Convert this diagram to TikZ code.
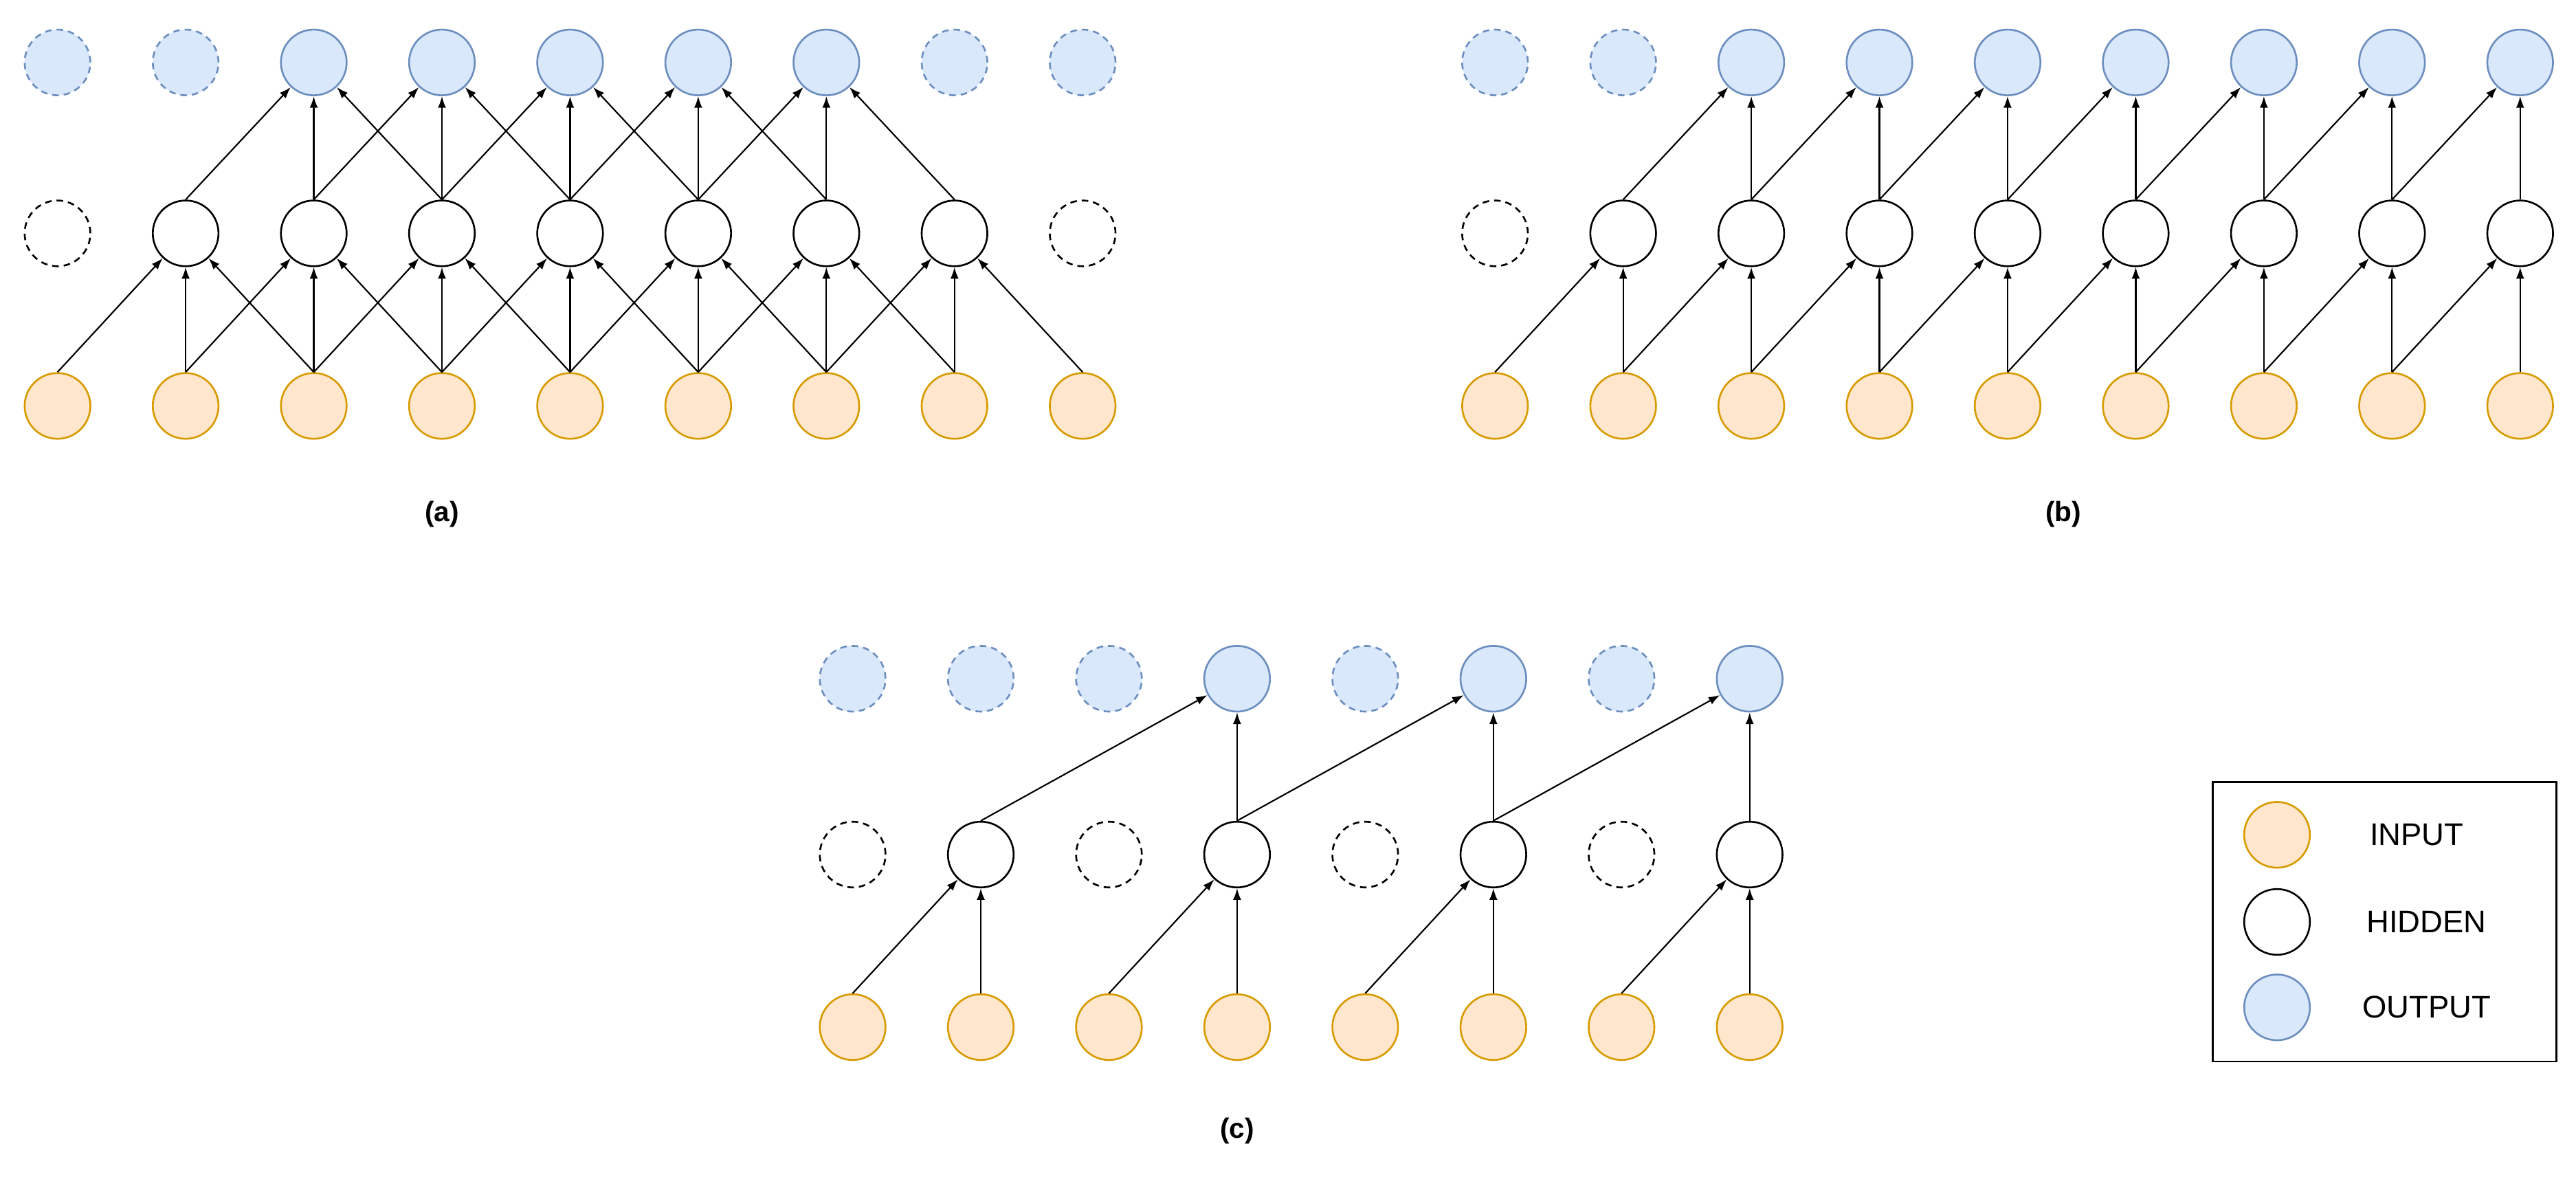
\documentclass[tikz,border=0pt]{standalone}
\usepackage{fontspec}
\setmainfont{Liberation Sans}
\usetikzlibrary{arrows.meta}
\definecolor{inF}{HTML}{FFE6CC}\definecolor{inD}{HTML}{D79B00}
\definecolor{outF}{HTML}{DAE8FC}\definecolor{outD}{HTML}{6C8EBF}
\begin{document}
\begin{tikzpicture}[x=1pt,y=-1pt,
  nd/.style={circle,minimum size=40pt,inner sep=0pt,line width=1.1pt},
  inp/.style={nd,draw=inD,fill=inF},
  hid/.style={nd,draw=black,fill=white},
  outp/.style={nd,draw=outD,fill=outF},
  dsh/.style={dashed,dash pattern=on 4pt off 3pt},
  ar/.style={-{Latex[length=7pt,width=5pt]},line width=0.9pt},
  lab/.style={font=\bfseries\fontsize{17}{20}\selectfont},
  leg/.style={font=\fontsize{19}{22}\selectfont}]
\useasboundingbox (0,0) rectangle (1568,716);
% ---------- (a)
\foreach \i in {0,...,8}{
  \pgfmathsetmacro\x{35+78*\i}
  \node[inp] (ai\i) at (\x,247) {};
  \ifnum\i=0 \node[hid,dsh] (ah\i) at (\x,142) {};
  \else\ifnum\i=8 \node[hid,dsh] (ah\i) at (\x,142) {};
  \else \node[hid] (ah\i) at (\x,142) {};\fi\fi
  \ifnum\i<2 \node[outp,dsh] (ao\i) at (\x,38) {};
  \else\ifnum\i>6 \node[outp,dsh] (ao\i) at (\x,38) {};
  \else \node[outp] (ao\i) at (\x,38) {};\fi\fi
}
\foreach \j in {1,...,7}{
  \pgfmathtruncatemacro\a{\j-1}\pgfmathtruncatemacro\b{\j+1}
  \draw[ar] (ai\a.north) -- (ah\j); \draw[ar] (ai\j.north) -- (ah\j); \draw[ar] (ai\b.north) -- (ah\j);
}
\foreach \j in {2,...,6}{
  \pgfmathtruncatemacro\a{\j-1}\pgfmathtruncatemacro\b{\j+1}
  \draw[ar] (ah\a.north) -- (ao\j); \draw[ar] (ah\j.north) -- (ao\j); \draw[ar] (ah\b.north) -- (ao\j);
}
\node[lab] (la) at (269,313) {(a)};
% ---------- (b)
\foreach \i in {0,...,8}{
  \pgfmathsetmacro\x{910+78*\i}
  \node[inp] (bi\i) at (\x,247) {};
  \ifnum\i=0 \node[hid,dsh] (bh\i) at (\x,142) {};
  \else \node[hid] (bh\i) at (\x,142) {};\fi
  \ifnum\i<2 \node[outp,dsh] (bo\i) at (\x,38) {};
  \else \node[outp] (bo\i) at (\x,38) {};\fi
}
\foreach \j in {1,...,8}{
  \pgfmathtruncatemacro\a{\j-1}
  \draw[ar] (bi\a.north) -- (bh\j); \draw[ar] (bi\j.north) -- (bh\j);
}
\foreach \j in {2,...,8}{
  \pgfmathtruncatemacro\a{\j-1}
  \draw[ar] (bh\a.north) -- (bo\j); \draw[ar] (bh\j.north) -- (bo\j);
}
\node[lab] (lb) at (1256,313) {(b)};
% ---------- (c)
\foreach \i in {0,...,7}{
  \pgfmathsetmacro\x{519+78*\i}
  \node[inp] (ci\i) at (\x,625) {};
  \ifodd\i \node[hid] (ch\i) at (\x,520) {};
  \else \node[hid,dsh] (ch\i) at (\x,520) {};\fi
}
\foreach \i in {0,...,7}{
  \pgfmathsetmacro\x{519+78*\i}
  \ifnum\i=3 \node[outp] (co\i) at (\x,413) {};
  \else\ifnum\i=5 \node[outp] (co\i) at (\x,413) {};
  \else\ifnum\i=7 \node[outp] (co\i) at (\x,413) {};
  \else \node[outp,dsh] (co\i) at (\x,413) {};\fi\fi\fi
}
\foreach \j in {1,3,5,7}{
  \pgfmathtruncatemacro\a{\j-1}
  \draw[ar] (ci\a.north) -- (ch\j); \draw[ar] (ci\j.north) -- (ch\j);
}
\draw[ar] (ch1.north) -- (co3); \draw[ar] (ch3.north) -- (co3);
\draw[ar] (ch3.north) -- (co5); \draw[ar] (ch5.north) -- (co5);
\draw[ar] (ch5.north) -- (co7); \draw[ar] (ch7.north) -- (co7);
\node[lab] (lc) at (753,688) {(c)};
% ---------- legend
\node[draw,line width=1.1pt,minimum width=209pt,minimum height=170pt,inner sep=0pt] (box) at (1451.5,561) {};
\node[inp] (g1) at (1386,508) {};
\node[hid] (g2) at (1386,561) {};
\node[outp] (g3) at (1386,613) {};
\node[leg] (t1) at (1471,508) {INPUT};
\node[leg] (t2) at (1477,561) {HIDDEN};
\node[leg] (t3) at (1477,613) {OUTPUT};
\end{tikzpicture}
\end{document}
